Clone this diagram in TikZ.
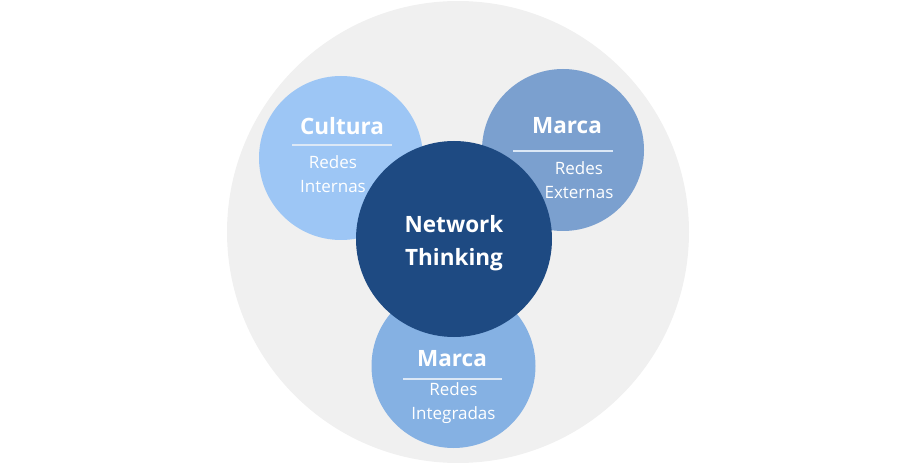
\documentclass[tikz,border=0pt]{standalone}
\usepackage{fontspec}
\setmainfont{Open Sans}
\usepackage{tikz}
\usetikzlibrary{calc}

\definecolor{bgGray}{HTML}{F0F0F0}
\definecolor{culturaBlue}{HTML}{9DC6F5}
\definecolor{externasBlue}{HTML}{7BA0CF}
\definecolor{integradasBlue}{HTML}{85B1E3}
\definecolor{networkBlue}{HTML}{1E4A82}
\definecolor{ruleBlue}{HTML}{DCE8F6}

\begin{document}
\begin{tikzpicture}[x=1pt,y=-1pt,inner sep=0pt,outer sep=0pt,
    bubble/.style={circle, minimum size=#1},
    title/.style={text=white, font=\fontsize{22.5}{24}\selectfont\bfseries},
    sub/.style={text=white, align=center, font=\fontsize{17}{24}\selectfont},
    sep/.style={draw=ruleBlue, line width=1.2pt}]
    \useasboundingbox (0,0) rectangle (900,465);

    % outer disc
    \node[bubble=462pt, fill=bgGray] (outer) at (458,232) {};

    % Cultura
    \node[bubble=164pt, fill=culturaBlue] (cultura) at (341,158) {};
    \node[title] (cultura_t) at ($(cultura.center) + (1,-32)$) {Cultura};
    \draw[sep] ($(cultura.center) + (-49,-13)$) -- ($(cultura.center) + (51,-13)$);
    \node[sub] (cultura_s) at ($(cultura.center) + (-8,16)$) {Redes\\Internas};

    % Marca / externas
    \node[bubble=162pt, fill=externasBlue] (externas) at (563,150) {};
    \node[title] (externas_t) at ($(externas.center) + (4,-24)$) {Marca};
    \draw[sep] ($(externas.center) + (-50,1)$) -- ($(externas.center) + (50,1)$);
    \node[sub] (externas_s) at ($(externas.center) + (16,30)$) {Redes\\Externas};

    % Marca / integradas
    \node[bubble=164pt, fill=integradasBlue] (integradas) at (453.5,366) {};
    \node[title] (integradas_t) at ($(integradas.center) + (-1.5,-7)$) {Marca};
    \draw[sep] ($(integradas.center) + (-50.5,13)$) -- ($(integradas.center) + (48.5,13)$);
    \node[sub] (integradas_s) at ($(integradas.center) + (0,37)$) {Redes\\Integradas};

    % Network Thinking
    \node[bubble=196pt, fill=networkBlue] (network) at (454,239) {};
    \node[title, align=center, font=\fontsize{22.5}{33}\selectfont\bfseries] (network_t)
    at ($(network.center) + (0,4)$) {Network\\Thinking};

\end{tikzpicture}
\end{document}
